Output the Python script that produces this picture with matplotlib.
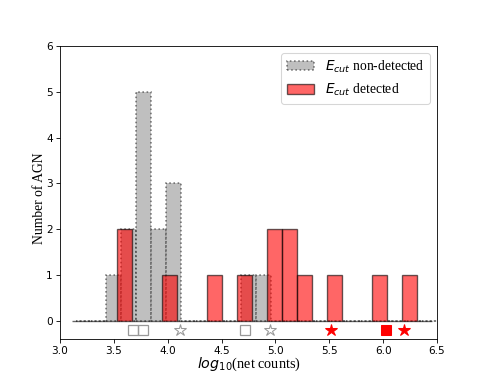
import matplotlib
matplotlib.use("Agg")
import matplotlib.pyplot as plt
import numpy as np

# Histogram bins (log10 net counts)
bin_width = 0.1395
nondet_start = 3.148
det_start = 3.1075
n_bins = 24

# counts per bin
nondet_counts = [0, 0, 1, 2, 5, 2, 3, 0, 0, 0, 0, 1, 1, 0, 0, 0, 0, 0, 0, 0, 0, 0, 0, 0]
det_counts = [0, 0, 0, 2, 0, 0, 1, 0, 0, 1, 0, 1, 0, 2, 2, 1, 0, 1, 0, 0, 1, 0, 1, 0]

# markers below the histogram
nondet_sq_x = [3.675, 3.774, 4.716]
nondet_star_x = [4.115, 4.945]
det_star_x = [5.518, 6.196]
det_sq_x = [6.029]
marker_y = -0.2

plt.rcParams['mathtext.fontset'] = 'dejavusans'
serif = ['Liberation Serif', 'DejaVu Serif']

DPI = 485 / 6.4
fig = plt.figure(figsize=(6.4, 5.12), dpi=DPI)
ax = fig.add_axes([0.124, 0.126, 0.777, 0.755])

nd_edges = nondet_start + bin_width * np.arange(n_bins + 1)
d_edges = det_start + bin_width * np.arange(n_bins + 1)
nd_centers = 0.5 * (nd_edges[:-1] + nd_edges[1:])
d_centers = 0.5 * (d_edges[:-1] + d_edges[1:])

ax.hist(nd_centers, bins=nd_edges, weights=nondet_counts, color='gray', alpha=0.5,
        edgecolor='black', linestyle=':', linewidth=1.5,
        label=r'$E_{cut}$ non-detected')
ax.hist(d_centers, bins=d_edges, weights=det_counts, color='red', alpha=0.6,
        edgecolor='black', linewidth=1.3, label=r'$E_{cut}$ detected')

ax.plot(nondet_sq_x, [marker_y] * len(nondet_sq_x), 's', mfc='none', mec='#999999', ms=9, mew=1.2)
ax.plot(nondet_star_x, [marker_y] * len(nondet_star_x), '*', mfc='none', mec='#999999', ms=12, mew=1.0)
ax.plot(det_star_x, [marker_y] * len(det_star_x), '*', color='red', ms=12)
ax.plot(det_sq_x, [marker_y] * len(det_sq_x), 's', color='red', ms=9)

ax.set_xlim(3.0, 6.5)
ax.set_ylim(-0.4, 6)
ax.set_yticks(range(0, 7))
ax.set_xticks(np.arange(3.0, 6.51, 0.5))

ax.set_ylabel('Number of AGN', fontsize=13, family=serif)
ax.yaxis.set_label_coords(-0.038, 0.48)
ax.set_xlabel(r'$log_{10}$(net counts)', fontsize=13.5, family=serif, labelpad=-1)

leg = ax.legend(loc='upper right', prop={'family': serif, 'size': 13})

fig.savefig('out.png', dpi=DPI)
